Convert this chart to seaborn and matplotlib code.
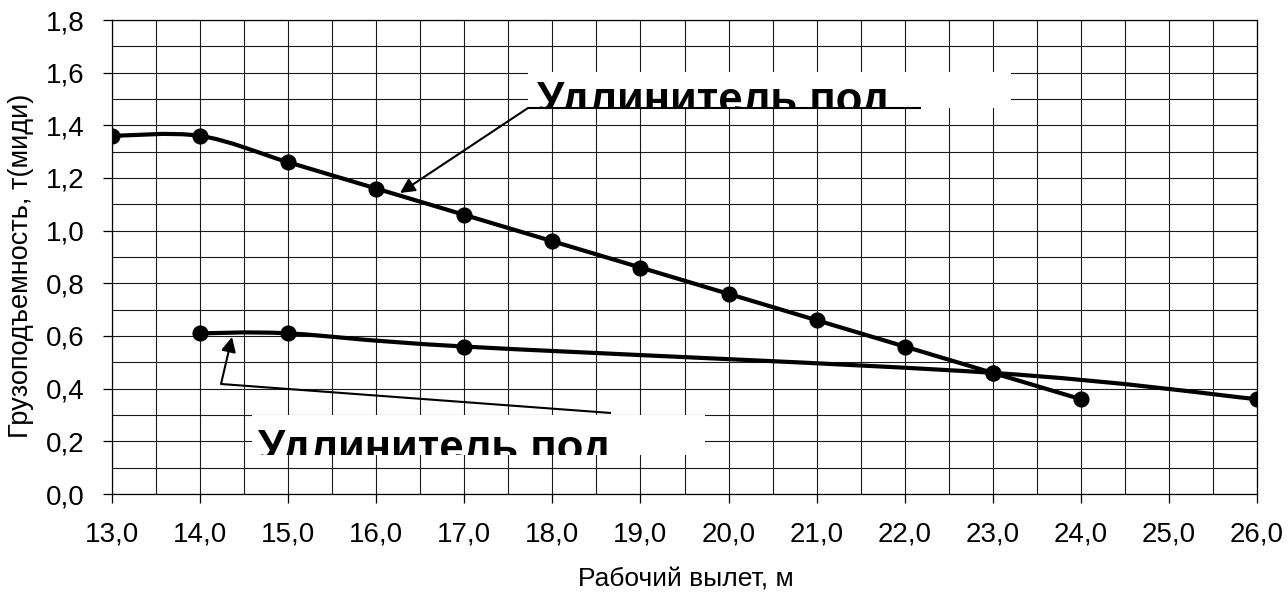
import numpy as np
import pandas as pd
import matplotlib
matplotlib.use("Agg")
import matplotlib.pyplot as plt
from matplotlib.path import Path
from matplotlib.patches import PathPatch, Rectangle
from matplotlib.ticker import MultipleLocator, FuncFormatter
from matplotlib.transforms import Bbox, TransformedBbox
import seaborn as sns

# ---- data ----
upper_x = [13, 14, 15, 16, 17, 18, 19, 20, 21, 22, 23, 24]
upper_y = [1.36, 1.36, 1.26, 1.16, 1.06, 0.96, 0.86, 0.76, 0.66, 0.56, 0.46, 0.36]
lower_x = [14, 15, 17, 23, 26]
lower_y = [0.61, 0.61, 0.56, 0.46, 0.36]
annot_text = "Удлинитель под"
x_label = "Рабочий вылет, м"
y_label = "Грузоподъемность, т(миди)"

sns.set_theme(style="white")
plt.rcParams['font.family'] = ['Liberation Sans', 'DejaVu Sans']
plt.rcParams.update({"text.color": "black", "axes.labelcolor": "black",
                     "xtick.color": "black", "ytick.color": "black"})

fig = plt.figure(figsize=(12.88, 5.94), dpi=100)
ax = fig.add_axes([112/1288, 100/594, 1145/1288, 474/594])

def smooth_path(xs, ys):
    pts = np.column_stack([xs, ys]).astype(float)
    n = len(pts)
    verts = [pts[0]]
    codes = [Path.MOVETO]
    for i in range(n - 1):
        p0 = pts[i - 1] if i > 0 else pts[i]
        p1 = pts[i]
        p2 = pts[i + 1]
        p3 = pts[i + 2] if i + 2 < n else pts[i + 1]
        c1 = p1 + (p2 - p0) / 6.0
        c2 = p2 - (p3 - p1) / 6.0
        verts += [c1, c2, p2]
        codes += [Path.CURVE4] * 3
    return Path(verts, codes)

for xs, ys in [(upper_x, upper_y), (lower_x, lower_y)]:
    ax.add_patch(PathPatch(smooth_path(xs, ys), fill=False, edgecolor="black",
                           lw=3.0, zorder=5, capstyle="round", joinstyle="round"))

df = pd.concat([
    pd.DataFrame({"x": upper_x, "y": upper_y, "s": "upper"}),
    pd.DataFrame({"x": lower_x, "y": lower_y, "s": "lower"}),
])
sns.scatterplot(data=df, x="x", y="y", color="black", s=135, edgecolor="black",
                linewidth=0, ax=ax, zorder=6, legend=False)

ax.set_xlim(13, 26)
ax.set_ylim(0, 1.8)
ax.xaxis.set_major_locator(MultipleLocator(1))
ax.xaxis.set_minor_locator(MultipleLocator(0.5))
ax.yaxis.set_major_locator(MultipleLocator(0.2))
ax.yaxis.set_minor_locator(MultipleLocator(0.1))
fmt = FuncFormatter(lambda v, p: f"{v:.1f}".replace(".", ","))
ax.xaxis.set_major_formatter(fmt)
ax.yaxis.set_major_formatter(fmt)
ax.grid(True, which="both", color="#1a1a1a", lw=0.8)
ax.set_axisbelow(True)
ax.tick_params(axis="both", which="major", direction="out", length=6.5, width=0.9,
               color="black", labelsize=20, pad=13.5, bottom=True, left=True)
ax.tick_params(axis="both", which="minor", length=0)
for sp in ax.spines.values():
    sp.set_color("black")
    sp.set_linewidth(0.9)

ax.set_xlabel(x_label, fontsize=19, va="bottom")
ax.xaxis.set_label_coords(0.501, (494 - 592) / 474)
ax.set_ylabel(y_label, fontsize=19.5)
ax.yaxis.set_label_coords((34 - 112) / 1145, (494 - 265.5) / 474)

def px2data(px, py):
    return 13 + (px - 112) / 1145 * 13, (494 - py) / 474 * 1.8

def add_box(x0px, y0px, x1px, y1px, txpx, typx, line_pts, arrow_tip):
    (bx0, by0) = px2data(x0px, y1px)
    (bx1, by1) = px2data(x1px, y0px)
    rect = Rectangle((bx0, by0), bx1 - bx0, by1 - by0, facecolor="white",
                     edgecolor="none", zorder=3)
    ax.add_patch(rect)
    tx, ty = px2data(txpx, typx)
    t = ax.text(tx, ty, annot_text, fontsize=31.5, fontweight="bold", ha="left",
                va="baseline", zorder=4, color="black")
    t.set_clip_on(True)
    t.set_clip_box(TransformedBbox(Bbox([[bx0, by0], [bx1, by1]]), ax.transData))
    pts = [px2data(*p) for p in line_pts]
    ax.plot([p[0] for p in pts], [p[1] for p in pts], color="black", lw=1.5,
            zorder=7, solid_capstyle="butt")
    ax.annotate("", xy=px2data(*arrow_tip), xytext=pts[-1],
                arrowprops=dict(arrowstyle="-|>", color="black", lw=1.5,
                                mutation_scale=22, shrinkA=0, shrinkB=0), zorder=7)

add_box(528, 72, 1011, 108, 537, 113, [(921, 108), (528, 108)], (400, 193))
add_box(252, 415, 705, 455, 258, 461, [(611, 413), (221, 384)], (232, 337))

fig.savefig("out.png", dpi=100)
